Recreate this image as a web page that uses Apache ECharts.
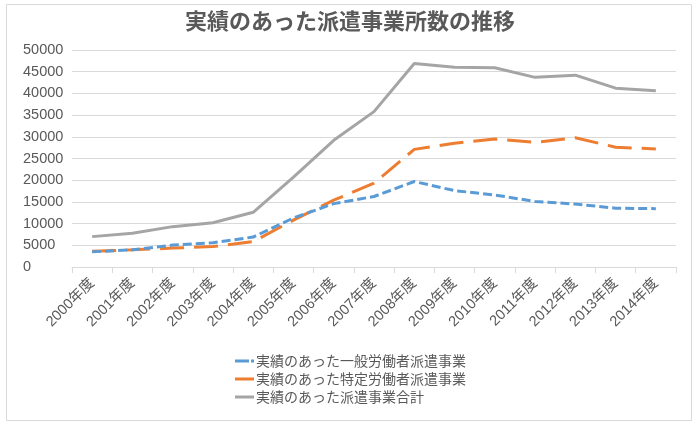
<!DOCTYPE html>
<html><head><meta charset="utf-8">
<script src="https://cdn.jsdelivr.net/npm/echarts@6/dist/echarts.min.js"></script>
<style>html,body{margin:0;padding:0;background:#fff}#c{width:700px;height:425px}</style>
</head><body><div id="c"></div>
<script>
const categories = ['2000年度','2001年度','2002年度','2003年度','2004年度','2005年度','2006年度','2007年度','2008年度','2009年度','2010年度','2011年度','2012年度','2013年度','2014年度'];
const general = [3500, 3950, 5050, 5600, 6900, 11300, 14600, 16250, 19700, 17600, 16600, 15100, 14500, 13550, 13450];
const specific = [3650, 3950, 4350, 4700, 5850, 10800, 15400, 19300, 27100, 28500, 29500, 28700, 29800, 27600, 27200];
const total = [7000, 7800, 9300, 10200, 12600, 20700, 29200, 35800, 46900, 46000, 45900, 43700, 44200, 41200, 40600];
const seriesNames = ['実績のあった一般労働者派遣事業','実績のあった特定労働者派遣事業','実績のあった派遣事業合計'];
const yTicks = {min: 0, max: 50000, interval: 5000};

const font = '"Liberation Sans", "Noto Sans CJK JP", sans-serif';
const cjk = '"Noto Sans CJK JP", sans-serif';
const chart = echarts.init(document.getElementById('c'));
chart.setOption({
  animation: false,
  textStyle: {fontFamily: font},
  graphic: [{type: 'rect', shape: {x: 6.5, y: 4.5, width: 685, height: 416}, style: {fill: 'none', stroke: '#d9d9d9', lineWidth: 1}, silent: true}],
  title: {text: '実績のあった派遣事業所数の推移', left: 'center', top: 5,
    textStyle: {fontFamily: cjk, fontSize: 22, fontWeight: 'bold', color: '#595959'}},
  legend: {orient: 'vertical', left: 230, top: 349, itemWidth: 19, itemHeight: 12, itemGap: 4,
    textStyle: {fontFamily: cjk, fontSize: 14, color: '#595959', padding: [0, 0, 0, -3]},
    data: [
      {name: seriesNames[0], icon: 'path://M0,0L14,0L14,3L0,3Z M16,0L19,0L19,3L16,3Z'},
      {name: seriesNames[1], icon: 'path://M0,0L19,0L19,3L0,3Z'},
      {name: seriesNames[2], icon: 'path://M0,0L19,0L19,3L0,3Z'}
    ]},
  grid: {left: 72, right: 24, top: 50, bottom: 158, containLabel: false},
  xAxis: {type: 'category', data: categories, boundaryGap: true,
    axisLine: {lineStyle: {color: '#d9d9d9', width: 1}},
    axisTick: {show: true, length: 6, lineStyle: {color: '#d9d9d9'}},
    axisLabel: {rotate: 45, fontSize: 14.5, color: '#595959', margin: 14, interval: 0, fontFamily: font}},
  yAxis: {type: 'value', min: yTicks.min, max: yTicks.max, interval: yTicks.interval,
    axisLine: {show: false}, axisTick: {show: false},
    splitLine: {lineStyle: {color: '#d9d9d9', width: 1}},
    axisLabel: {fontSize: 14.5, color: '#595959', margin: 49, align: 'left', fontFamily: font,
      formatter: v => String(v)}},
  series: [
    {name: seriesNames[0], type: 'line', data: general, symbol: 'none', z: 3,
     itemStyle: {color: '#5B9BD5'}, lineStyle: {color: '#5B9BD5', width: 3, type: [9, 4]}},
    {name: seriesNames[1], type: 'line', data: specific, symbol: 'none', z: 2,
     itemStyle: {color: '#ED7D31'}, lineStyle: {color: '#ED7D31', width: 3, type: [24, 10]}},
    {name: seriesNames[2], type: 'line', data: total, symbol: 'none', z: 1,
     itemStyle: {color: '#A5A5A5'}, lineStyle: {color: '#A5A5A5', width: 3}}
  ]
});
</script></body></html>
